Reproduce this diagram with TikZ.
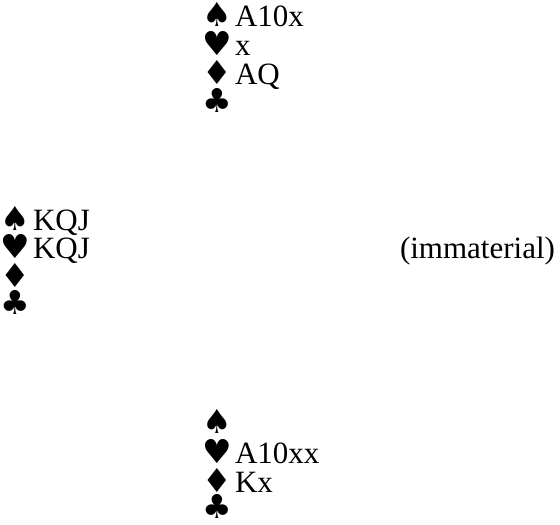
\documentclass[tikz,border=0pt]{standalone}
\usepackage{fontspec}
\setmainfont{Liberation Serif}
\newfontfamily\suitfont{DejaVu Sans}
\tikzset{
  handline/.style={anchor=base west, inner sep=0pt, outer sep=0pt, font=\fontsize{31}{30}\selectfont},
}
\newcommand{\suitsym}[1]{{\fontsize{33}{30}\suitfont #1}}
\newcommand{\sS}{\suitsym{♠}}
\newcommand{\sH}{\suitsym{♥}}
\newcommand{\sD}{\suitsym{♦}}
\newcommand{\sC}{\suitsym{♣}}
\newcommand{\gap}{\hspace{3.5pt}}
\begin{document}
\begin{tikzpicture}[x=1pt,y=-1pt]
\useasboundingbox (0,0) rectangle (560,525);
% North
\node[handline] (n1) at (202,26) {\sS\gap A10x};
\node[handline] (n2) at (202,55) {\sH\gap x};
\node[handline] (n3) at (202,84) {\sD\gap AQ};
\node[handline] (n4) at (202,112) {\sC};
% West
\node[handline] (w1) at (0,230) {\sS\gap KQJ};
\node[handline] (w2) at (0,258) {\sH\gap KQJ};
\node[handline] (w3) at (0,287) {\sD};
\node[handline] (w4) at (0,314) {\sC};
% East
\node[handline] (e1) at (400,258) {(immaterial)};
% South
\node[handline] (s1) at (202,433) {\sS};
\node[handline] (s2) at (202,463) {\sH\gap A10xx};
\node[handline] (s3) at (202,492) {\sD\gap Kx};
\node[handline] (s4) at (202,518) {\sC};
\end{tikzpicture}
\end{document}
